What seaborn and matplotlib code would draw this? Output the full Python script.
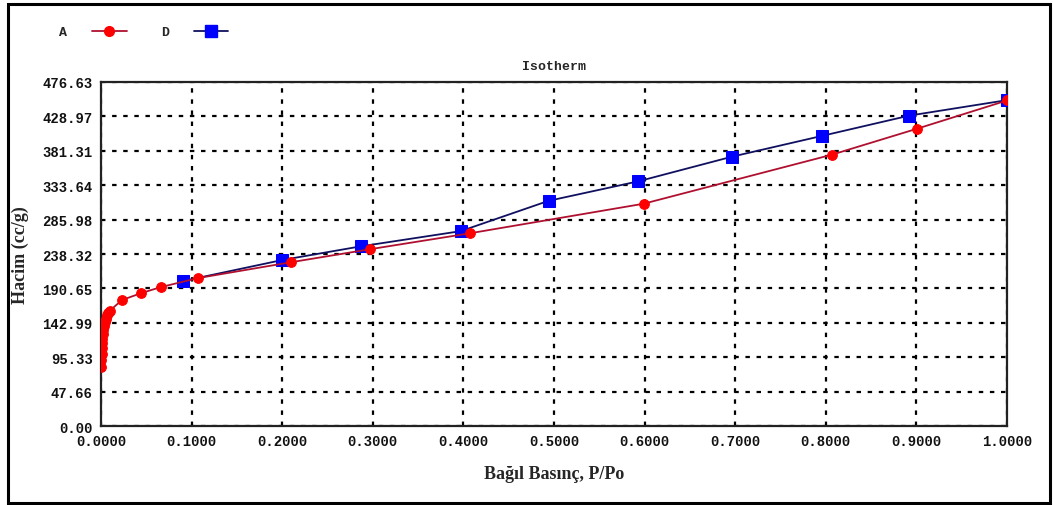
import matplotlib
matplotlib.use("Agg")
import matplotlib.pyplot as plt
from matplotlib.patches import Rectangle
from matplotlib.lines import Line2D
import seaborn as sns
import pandas as pd

# --- data ---
a_x = [0.0003, 0.0005, 0.0007, 0.0010, 0.0013, 0.0016, 0.0020, 0.0025, 0.0030,
       0.0040, 0.0050, 0.0065, 0.0080, 0.0100, 0.023, 0.044, 0.066, 0.107,
       0.210, 0.297, 0.407, 0.599, 0.807, 0.901, 1.000]
a_y = [82, 92, 100, 108, 115, 121, 127, 133, 138,
       144, 149, 154, 157, 160, 174.5, 184, 192.5, 205,
       227, 245, 267, 308, 376, 412, 451]
d_x = [0.091, 0.200, 0.287, 0.397, 0.494, 0.593, 0.696, 0.796, 0.892, 1.000]
d_y = [201, 230, 249, 270, 312, 339, 373, 402, 430, 451.5]

y_ticks = [0.00, 47.66, 95.33, 142.99, 190.65, 238.32, 285.98, 333.64, 381.31, 428.97, 476.63]
x_ticks = [0.0, 0.1, 0.2, 0.3, 0.4, 0.5, 0.6, 0.7, 0.8, 0.9, 1.0]
series_names = ["A", "D"]
title = "Isotherm"
x_label = "Bağıl Basınç, P/Po"
y_label = "Hacim (cc/g)"

sns.set_style("white")
plt.rcParams['font.family'] = ['Liberation Mono', 'DejaVu Sans']

fig = plt.figure(figsize=(10.53, 5.06), dpi=100)
ax = fig.add_axes([0.0959, 0.156, 0.8604, 0.680])

dfa = pd.DataFrame({"x": a_x, "y": a_y})
dfd = pd.DataFrame({"x": d_x, "y": d_y})

a_line = "#b01030"
a_mark = "#ff0000"
d_line = "#101060"
d_mark = "#0000ff"

sns.lineplot(data=dfd, x="x", y="y", ax=ax, sort=False, color=d_line, lw=1.3,
             marker="s", markersize=8, markerfacecolor=d_mark, markeredgecolor=d_mark,
             zorder=3)
sns.lineplot(data=dfa, x="x", y="y", ax=ax, sort=False, color=a_line, lw=1.3,
             marker="o", markersize=7, markerfacecolor=a_mark, markeredgecolor=a_mark,
             zorder=4)

ax.set_xlim(0, 1.0)
ax.set_ylim(0, 476.63)
ax.set_xticks(x_ticks)
ax.set_xticklabels([f"{v:.4f}" for v in x_ticks])
ax.set_yticks(y_ticks)
ax.set_yticklabels([f"{v:.2f}" for v in y_ticks])
ax.tick_params(axis="both", direction="in", length=4, width=1, color="black",
               labelsize=10, pad=6)
for lab in ax.get_xticklabels() + ax.get_yticklabels():
    lab.set_fontweight("bold")
    lab.set_color("#111111")

ax.grid(True, color="black", linestyle=(0, (2, 3)), linewidth=1.6)
for s in ax.spines.values():
    s.set_color("#222222")
    s.set_linewidth(1.6)

ax.set_xlabel(x_label, family="Liberation Serif", fontweight="bold", fontsize=13, labelpad=12)
ax.set_ylabel(y_label, family="Liberation Serif", fontweight="bold", fontsize=13, labelpad=10)
ax.set_title(title, fontsize=9.5, fontweight="bold", pad=9)

handles = [
    Line2D([], [], color=a_line, lw=1.3, marker="o", markersize=7,
           markerfacecolor=a_mark, markeredgecolor=a_mark),
    Line2D([], [], color=d_line, lw=1.3, marker="s", markersize=8,
           markerfacecolor=d_mark, markeredgecolor=d_mark),
]
fig.legend(handles, series_names, loc="upper left", bbox_to_anchor=(0.045, 0.97),
           ncol=2, frameon=False, markerfirst=False, handlelength=2.6,
           columnspacing=2.6, handletextpad=1.9, prop={"family": "Liberation Mono",
                                                       "weight": "bold", "size": 9.5})

fig.patches.append(Rectangle((8 / 1053, 2 / 506), 1042 / 1053, 499 / 506,
                             transform=fig.transFigure, fill=False,
                             edgecolor="black", linewidth=2.2))

fig.savefig("out.png", dpi=100)
